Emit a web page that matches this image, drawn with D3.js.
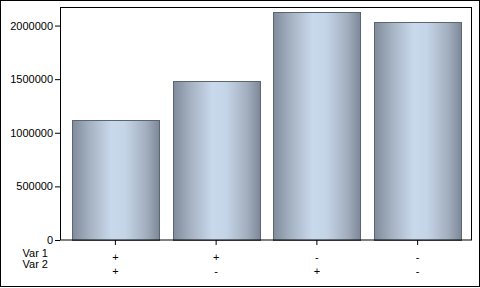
<!DOCTYPE html>
<html>
<head>
<meta charset="utf-8">
<script src="https://cdn.jsdelivr.net/npm/d3@7"></script>
<style>
    body { margin: 0; background: #fff; }
    text { font-family: "Liberation Sans", Arial, sans-serif; font-size: 11px; fill: #000; }
</style>
</head>
<body>
<svg id="chart" width="480" height="288"></svg>
<script>
var categories = ["A", "B", "C", "D"];
var values = [1119000, 1480000, 2130000, 2034000];
var var1Labels = ["+", "+", "-", "-"];
var var2Labels = ["+", "-", "+", "-"];
var rowNames = ["Var 1", "Var 2"];
var yTicks = [0, 500000, 1000000, 1500000, 2000000];

var svg = d3.select("#chart");
var width = +svg.attr("width");
var height = +svg.attr("height");
var margin = {top: 7, right: 8, bottom: 48, left: 60};
var innerW = width - margin.left - margin.right;
var innerH = height - margin.top - margin.bottom;

// outer frame
svg.append("rect")
    .attr("x", 0.5).attr("y", 0.5)
    .attr("width", width - 1).attr("height", height - 2)
    .attr("fill", "none").attr("stroke", "#000");

var defs = svg.append("defs");
var grad = defs.append("linearGradient")
    .attr("id", "barGrad")
    .attr("x1", "0%").attr("x2", "100%").attr("y1", "0%").attr("y2", "0%");
[[0, "#808c9c"], [0.2, "#a5b2c2"], [0.45, "#c9d9ec"], [0.6, "#c5d5e8"], [0.85, "#a2aebe"], [1, "#7c8797"]]
    .forEach(function (s) {
        grad.append("stop").attr("offset", s[0]).attr("stop-color", s[1]);
    });

var g = svg.append("g")
    .attr("transform", "translate(" + margin.left + "," + margin.top + ")");

var x = d3.scaleBand()
    .domain(categories)
    .range([5, innerW - 4])
    .paddingInner(0.136)
    .paddingOuter(0.068);

var y = d3.scaleLinear()
    .domain([0, 2173000])
    .range([innerH, 0]);

g.selectAll(".bar")
    .data(values)
    .enter().append("rect")
    .attr("class", "bar")
    .attr("x", function (d, i) { return Math.round(x(categories[i])) + 0.5; })
    .attr("y", function (d) { return Math.round(y(d)) + 0.5; })
    .attr("width", Math.round(x.bandwidth()))
    .attr("height", function (d) { return Math.round(innerH - y(d)); })
    .attr("fill", "url(#barGrad)")
    .attr("stroke", "#5d6570")
    .attr("stroke-width", 1);

// plot frame
g.append("rect")
    .attr("x", 0.5).attr("y", 0.5)
    .attr("width", innerW - 1).attr("height", innerH - 0.5)
    .attr("fill", "none").attr("stroke", "#000");

var yAxis = g.append("g")
    .attr("class", "axis axis--y")
    .call(d3.axisLeft(y).tickValues(yTicks).tickSize(5).tickPadding(2).tickFormat(d3.format("d")));
yAxis.select(".domain").remove();
yAxis.selectAll("line").attr("stroke", "#000");
yAxis.selectAll("text").style("font-size", "11px").style("font-family", "Liberation Sans, Arial, sans-serif");

var xAxis = g.append("g")
    .attr("class", "axis axis--x")
    .attr("transform", "translate(0," + innerH + ")")
    .call(d3.axisBottom(x).tickSize(5).tickFormat(""));
xAxis.select(".domain").remove();
xAxis.selectAll("line").attr("stroke", "#000");

// row labels under the axis
var rowY = [21, 35];
[var1Labels, var2Labels].forEach(function (labels, r) {
    g.selectAll(".row" + r)
        .data(labels)
        .enter().append("text")
        .attr("class", "row" + r)
        .attr("x", function (d, i) { return x(categories[i]) + x.bandwidth() / 2; })
        .attr("y", innerH + rowY[r])
        .attr("text-anchor", "middle")
        .text(function (d) { return d; });
});

g.selectAll(".rowname")
    .data(rowNames)
    .enter().append("text")
    .attr("class", "rowname")
    .attr("x", -12)
    .attr("y", function (d, i) { return innerH + 17 + i * 10.5; })
    .attr("text-anchor", "end")
    .text(function (d) { return d; });
</script>
</body>
</html>
